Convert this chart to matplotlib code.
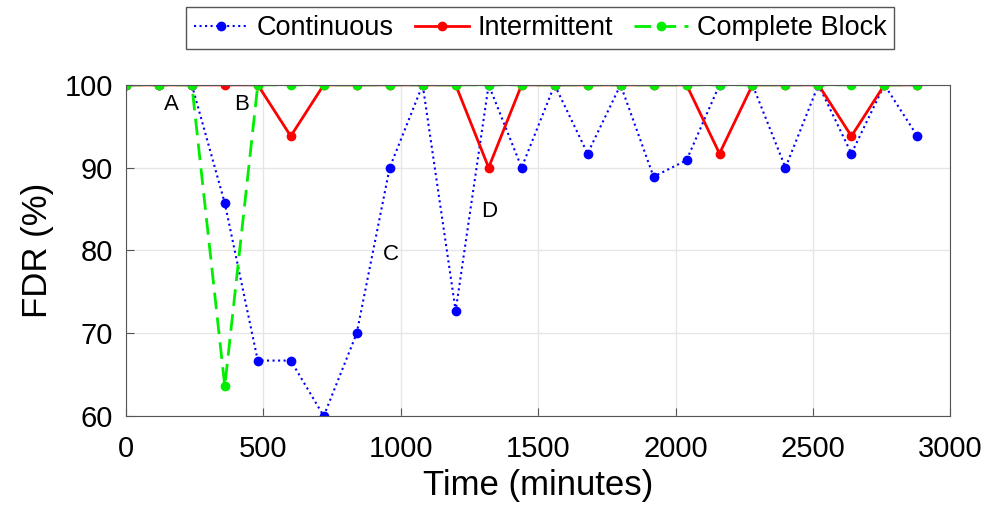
import matplotlib
matplotlib.use("Agg")
import matplotlib.pyplot as plt
import numpy as np

plt.rcParams['font.family'] = ['Liberation Sans', 'DejaVu Sans']

t = np.arange(0, 2881, 120)
continuous = [100, 100, 100, 85.7, 66.7, 66.7, 60, 70, 90, 100, 72.7, 100, 90,
              100, 91.7, 100, 88.9, 90.9, 100, 100, 90, 100, 91.7, 100, 93.8]
intermittent = [100, 100, 100, 100, 100, 93.8, 100, 100, 100, 100, 100, 90, 100,
                100, 100, 100, 100, 100, 91.7, 100, 100, 100, 93.8, 100, 100]
complete = [100, 100, 100, 63.6, 100, 100, 100, 100, 100, 100, 100, 100, 100,
            100, 100, 100, 100, 100, 100, 100, 100, 100, 100, 100, 100]

labels = ["A", "B", "C", "D"]
label_x = [167, 422, 966, 1323]
label_y = [97.6, 97.6, 79.5, 84.7]

fig = plt.figure(figsize=(9.91, 5.08), dpi=100)
ax = fig.add_axes([0.127, 0.181, 0.832, 0.652])

ax.plot(t, continuous, ':', color='#0000ff', marker='o', markersize=6, linewidth=1.5, label='Continuous')
ax.plot(t, intermittent, '-', color='#ff0000', marker='o', markersize=6, linewidth=2, label='Intermittent')
ax.plot(t, complete, '--', color='#00ee00', marker='o', markersize=6, linewidth=2, dashes=(6, 3), label='Complete Block')

for s, x, y in zip(labels, label_x, label_y):
    ax.text(x, y, s, fontsize=16, ha='center', va='center')

ax.set_xlim(0, 3000)
ax.set_ylim(60, 100)
ax.set_xticks([0, 500, 1000, 1500, 2000, 2500, 3000])
ax.set_yticks([60, 70, 80, 90, 100])
ax.grid(True, color='#e6e6e6', linewidth=1)
ax.set_axisbelow(True)
ax.tick_params(labelsize=21, direction='in', length=6, color='#555555')
ax.tick_params(axis='y', pad=9)
ax.tick_params(axis='x', pad=14)
for sp in ax.spines.values():
    sp.set_color('#555555')
ax.set_xlabel('Time (minutes)', fontsize=25, labelpad=4)
ax.set_ylabel('FDR (%)', fontsize=25, labelpad=8)

ax.legend(loc='upper center', bbox_to_anchor=(0.545, 0.986), bbox_transform=fig.transFigure,
          borderaxespad=0, ncol=3, fontsize=19.5, frameon=True, fancybox=False,
          edgecolor='#555555', handlelength=2.0, columnspacing=0.8, handletextpad=0.3,
          borderpad=0.3, framealpha=1)

fig.savefig('out.png', dpi=100)
